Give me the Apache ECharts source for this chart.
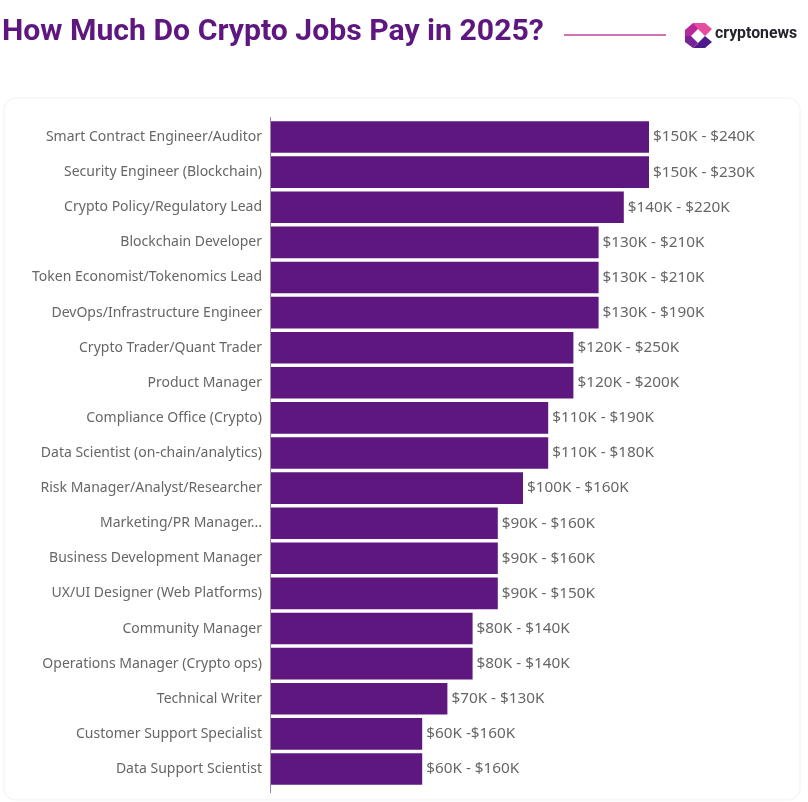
<!DOCTYPE html>
<html>
<head>
<meta charset="utf-8">
<style>
html, body { margin: 0; padding: 0; background: #fff; }
#main { width: 808px; height: 802px; }
</style>
<script src="https://cdn.jsdelivr.net/npm/echarts@6/dist/echarts.min.js"></script>
</head>
<body>
<div id="main"></div>
<script>
var categories = [
    'Smart Contract Engineer/Auditor', 'Security Engineer (Blockchain)', 'Crypto Policy/Regulatory Lead',
    'Blockchain Developer', 'Token Economist/Tokenomics Lead', 'DevOps/Infrastructure Engineer',
    'Crypto Trader/Quant Trader', 'Product Manager', 'Compliance Office (Crypto)',
    'Data Scientist (on-chain/analytics)', 'Risk Manager/Analyst/Researcher', 'Marketing/PR Manager...',
    'Business Development Manager', 'UX/UI Designer (Web Platforms)', 'Community Manager',
    'Operations Manager (Crypto ops)', 'Technical Writer', 'Customer Support Specialist', 'Data Support Scientist'
];
// low end of each pay range, in $K
var lowPay = [150, 150, 140, 130, 130, 130, 120, 120, 110, 110, 100, 90, 90, 90, 80, 80, 70, 60, 60];
var rangeLabels = [
    '$150K - $240K', '$150K - $230K', '$140K - $220K', '$130K - $210K', '$130K - $210K', '$130K - $190K',
    '$120K - $250K', '$120K - $200K', '$110K - $190K', '$110K - $180K', '$100K - $160K', '$90K - $160K',
    '$90K - $160K', '$90K - $150K', '$80K - $140K', '$80K - $140K', '$70K - $130K', '$60K -$160K', '$60K - $160K'
];

var FONT = '"Noto Sans", sans-serif';

var option = {
    animation: false,
    backgroundColor: '#fff',
    title: {
        text: 'How Much Do Crypto Jobs Pay in 2025?',
        left: -3,
        top: 12,
        textStyle: { color: '#5f1780', fontFamily: 'Roboto, sans-serif', fontWeight: 700, fontSize: 30.2 }
    },
    grid: { left: 271, top: 119.5, width: 504, height: 667 },
    xAxis: { type: 'value', min: 0, max: 200, show: false },
    yAxis: {
        type: 'category',
        inverse: true,
        data: categories,
        axisLine: { show: false },
        axisTick: { show: false },
        axisLabel: { color: '#666', fontFamily: FONT, fontSize: 14, margin: 9, padding: [4, 0, 0, 0] }
    },
    series: [{
        type: 'bar',
        data: lowPay,
        barCategoryGap: '10%',
        itemStyle: { color: '#5f1780' },
        label: {
            show: true,
            position: 'right',
            distance: 4,
            color: '#666',
            fontFamily: FONT,
            fontSize: 15.3,
            formatter: function (p) { return rangeLabels[p.dataIndex]; }
        }
    }],
    graphic: [
        // card behind the chart
        { type: 'rect', z: -10, shape: { x: 4, y: 98, width: 796, height: 702, r: 12 },
          style: { fill: '#fff', stroke: '#f6f6f6', lineWidth: 1.5 } },
        // axis line runs a little past the bars
        { type: 'line', z: 10, shape: { x1: 270.5, y1: 117, x2: 270.5, y2: 793 },
          style: { stroke: '#9a8aa5', lineWidth: 1 } },
        // rule beside the title
        { type: 'line', shape: { x1: 564, y1: 35, x2: 666, y2: 35 }, style: { stroke: '#c2459f', lineWidth: 1.5 } },
        // logo
        { type: 'polygon', shape: { points: [[693, 23], [705, 23], [712, 29], [705, 36], [698, 29], [693, 29]] },
          style: { fill: '#e64d9e' } },
        { type: 'polygon', shape: { points: [[685, 30], [693, 23], [698, 29], [691, 36], [685, 42]] },
          style: { fill: '#b9289a' } },
        { type: 'polygon', shape: { points: [[698, 43], [705, 36], [712, 42], [705, 48], [693, 48]] },
          style: { fill: '#4f1a8c' } },
        { type: 'polygon', shape: { points: [[685, 36], [691, 36], [698, 43], [693, 48], [685, 42]] },
          style: { fill: '#7a2399' } },
        { type: 'text', x: 715, y: 26, style: { text: 'cryptonews', fill: '#26222b', font: '700 15.8px Roboto, sans-serif' } }
    ]
};

var myChart = echarts.init(document.getElementById('main'));
myChart.setOption(option);
</script>
</body>
</html>
